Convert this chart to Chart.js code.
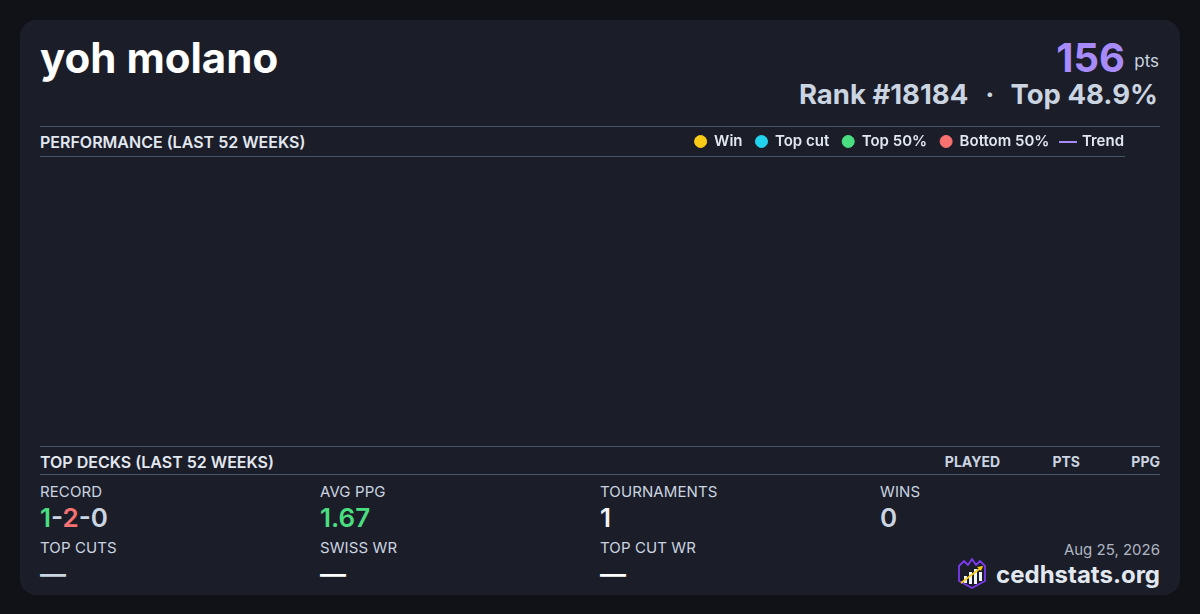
<!DOCTYPE html>
<html>
<head>
<meta charset="utf-8">
<script src="https://cdn.jsdelivr.net/npm/chart.js@4.4.1/dist/chart.umd.min.js"></script>
<style>
  html,body{margin:0;padding:0;width:1200px;height:614px;overflow:hidden;background:#111217;font-family:Inter,"Noto Sans",sans-serif;}
  .card{position:absolute;left:20px;top:20px;width:1160px;height:575px;background:#1b1d28;border-radius:16px;}
  .abs{position:absolute;white-space:nowrap;}
  .hr{position:absolute;height:1px;background:#475569;}
  .title{left:40px;top:37px;font-size:42px;line-height:42px;font-weight:700;color:#ffffff;}
  .sec{font-size:16px;line-height:16px;font-weight:600;color:#e2e8f0;}
  .col{font-size:14px;line-height:14px;font-weight:700;color:#cbd5e1;text-align:right;width:80px;}
  .lab{font-size:15px;line-height:15px;font-weight:400;color:#cbd5e1;letter-spacing:0.1px;}
  .val{font-size:26px;line-height:26px;font-weight:600;color:#cbd5e1;}
  #chartWrap{position:absolute;left:40px;top:121px;width:1097px;height:325px;}
</style>
</head>
<body>
<div class="card"></div>

<div class="abs title">yoh molano</div>
<div class="abs" style="right:75px;top:38.2px;font-size:40px;line-height:40px;font-weight:700;color:#a78bfa;">156</div>
<div class="abs" style="right:41px;top:52.5px;font-size:17px;line-height:17px;font-weight:400;color:#cbd5e1;">pts</div>
<div class="abs" style="right:42px;top:80.5px;font-size:27.5px;line-height:27.5px;font-weight:700;color:#cbd5e1;">Rank #18184<span style="margin:0 16px 0 17px;">·</span>Top 48.9%</div>

<div class="hr" style="left:40px;top:126px;width:1120px;"></div>
<div class="abs sec" style="left:40px;top:134.2px;">PERFORMANCE (LAST 52 WEEKS)</div>
<div class="hr" style="left:40px;top:156px;width:1085px;"></div>

<div id="chartWrap"><canvas id="perf"></canvas></div>

<div class="hr" style="left:40px;top:446px;width:1120px;"></div>
<div class="abs sec" style="left:40px;top:453.8px;">TOP DECKS (LAST 52 WEEKS)</div>
<div class="abs col" style="left:920px;top:455px;">PLAYED</div>
<div class="abs col" style="left:1000px;top:455px;">PTS</div>
<div class="abs col" style="left:1080px;top:455px;">PPG</div>
<div class="hr" style="left:40px;top:474px;width:1120px;"></div>

<div class="abs lab" style="left:40px;top:483.7px;">RECORD</div>
<div class="abs val" style="left:40px;top:505px;"><span style="color:#4ade80">1</span>-<span style="color:#f87171">2</span>-<span>0</span></div>
<div class="abs lab" style="left:40px;top:539.7px;">TOP CUTS</div>
<div class="abs val" style="left:40px;top:561px;color:#cbd5e1;">—</div>

<div class="abs lab" style="left:320px;top:483.7px;">AVG PPG</div>
<div class="abs val" style="left:320px;top:505px;color:#4ade80;">1.67</div>
<div class="abs lab" style="left:320px;top:539.7px;">SWISS WR</div>
<div class="abs val" style="left:320px;top:561px;color:#ffffff;">—</div>

<div class="abs lab" style="left:600px;top:483.7px;">TOURNAMENTS</div>
<div class="abs val" style="left:600px;top:505px;color:#f1f5f9;">1</div>
<div class="abs lab" style="left:600px;top:539.7px;">TOP CUT WR</div>
<div class="abs val" style="left:600px;top:561px;color:#ffffff;">—</div>

<div class="abs lab" style="left:880px;top:483.7px;">WINS</div>
<div class="abs val" style="left:880px;top:505px;color:#cbd5e1;">0</div>

<div class="abs" style="right:40px;top:542px;font-size:15px;line-height:15px;color:#aeb6c2;">Aug 25, 2026</div>
<svg class="abs" style="left:956px;top:558px;" width="32" height="31" viewBox="0 0 32 31">
  <path d="M3 8 L8 3 L12 7 L16 1 L20 7 L24 3 L29 8 L29 23 L16 30 L3 23 Z" fill="none" stroke="#7c3aed" stroke-width="1.8" stroke-linejoin="round"/>
  <rect x="8" y="18" width="3" height="7" fill="#f1f5f9"/>
  <rect x="13" y="14" width="3" height="12" fill="#f1f5f9"/>
  <rect x="18" y="11" width="3" height="15" fill="#f1f5f9"/>
  <rect x="23" y="14" width="3" height="9" fill="#f1f5f9"/>
  <path d="M5 25 L26 9" stroke="#facc15" stroke-width="1.8"/>
  <path d="M27 8 L21 9 L25 13 Z" fill="#facc15"/>
</svg>
<div class="abs" style="right:40px;top:562.5px;font-size:24px;line-height:24px;font-weight:700;color:#e2e8f0;">cedhstats.org</div>

<script>
// ---- data (last 52 weeks: no tournaments charted) ----
const weeks = [];
const winValues = [];
const topCutValues = [];
const top50Values = [];
const bottom50Values = [];
const trendValues = [];
const seriesNames = ['Win', 'Top cut', 'Top 50%', 'Bottom 50%', 'Trend'];
const seriesColors = ['#facc15', '#22d3ee', '#4ade80', '#f87171', '#a78bfa'];

// legend marker image for the trend line
const trendMark = document.createElement('canvas');
trendMark.width = 18; trendMark.height = 2;
(function(){const c = trendMark.getContext('2d'); c.fillStyle = seriesColors[4]; c.fillRect(0,0,18,2);})();

const pointSets = [winValues, topCutValues, top50Values, bottom50Values];
const datasets = pointSets.map((vals, i) => ({
  type: 'scatter',
  label: seriesNames[i],
  data: vals,
  backgroundColor: seriesColors[i],
  borderColor: seriesColors[i],
  pointStyle: 'circle',
  pointRadius: 5
}));
datasets.push({
  type: 'line',
  label: seriesNames[4],
  data: trendValues,
  borderColor: seriesColors[4],
  backgroundColor: seriesColors[4],
  borderWidth: 2,
  pointRadius: 0,
  pointStyle: trendMark
});

new Chart(document.getElementById('perf'), {
  type: 'line',
  data: { labels: weeks, datasets },
  options: {
    responsive: true,
    maintainAspectRatio: false,
    animation: false,
    layout: { padding: 0 },
    scales: { x: { display: false }, y: { display: false } },
    plugins: {
      tooltip: { enabled: false },
      legend: {
        position: 'top',
        align: 'end',
        labels: {
          usePointStyle: true,
          boxWidth: 12,
          boxHeight: 8.5,
          padding: 13,
          color: '#e2e8f0',
          font: { family: 'Inter', size: 15, weight: '600' }
        }
      }
    }
  }
});
</script>
</body>
</html>
